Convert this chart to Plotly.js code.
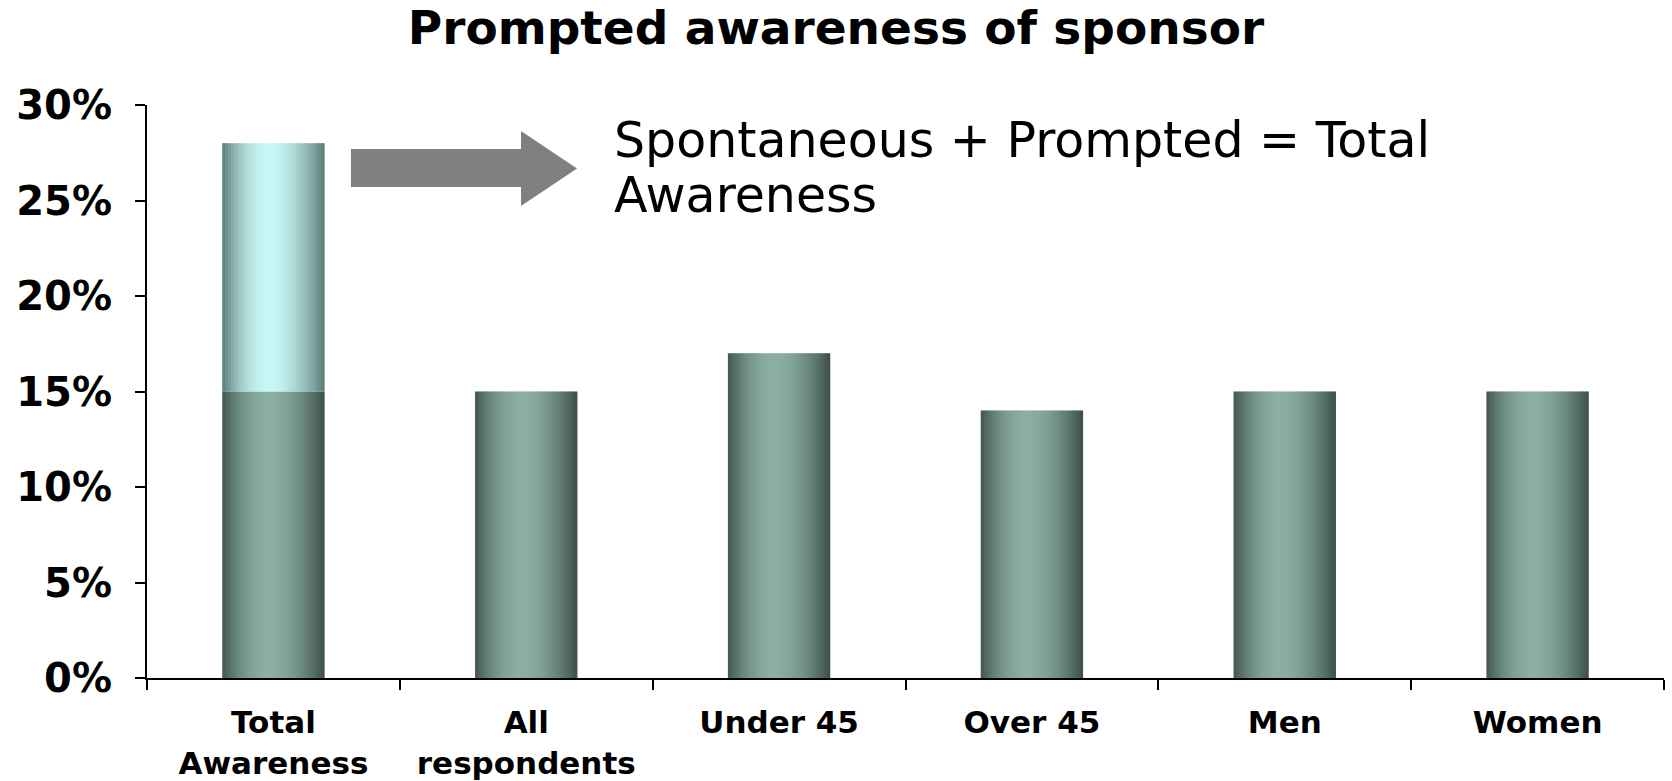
<!DOCTYPE html>
<html>
<head>
<meta charset="utf-8">
<script src="https://cdn.plot.ly/plotly-3.0.1.min.js"></script>
<style>
  html, body { margin: 0; padding: 0; background: #ffffff; }
  #chart { width: 1672px; height: 781px; }
</style>
</head>
<body>
<div id="chart"></div>
<script>
// ---- Data ----
const categories = ['Total Awareness', 'All respondents', 'Under 45', 'Over 45', 'Men', 'Women'];
const tickLabels = ['Total<br>Awareness', 'All<br>respondents', 'Under 45', 'Over 45', 'Men', 'Women'];
const baseValues = [15, 15, 17, 14, 15, 15];      // dark green bars (%)
const addedValues = [13, 0, 0, 0, 0, 0];          // light cyan segment on top of Total Awareness (%)
const yTickValues = [0, 5, 10, 15, 20, 25, 30];
const yTickLabels = ['0%', '5%', '10%', '15%', '20%', '25%', '30%'];
const chartTitle = 'Prompted awareness of sponsor';
const noteLines = ['Spontaneous + Prompted = Total', 'Awareness'];

// ---- Gradient strips (visual style only) ----
const N = 36;
const barWidth = 0.405;
const stripW = barWidth / N;

function profile(t) {
  const peak = 0.46;
  if (t < peak) return 1 - Math.pow((peak - t) / peak, 2);
  return 1 - Math.pow((t - peak) / (1 - peak), 1.7);
}
function mix(a, b, f) { return a.map((v, i) => Math.round(v + (b[i] - v) * f)); }
function stripColor(t, darkL, darkR, light) {
  const dark = mix(darkL, darkR, t);
  const c = mix(dark, light, Math.max(0, Math.min(1, profile(t))));
  return 'rgb(' + c.join(',') + ')';
}

const traces = [];
function addSeries(yVals, baseVals, darkL, darkR, light) {
  for (let i = 0; i < N; i++) {
    const t = (i + 0.5) / N;
    const tr = {
      type: 'bar',
      x: categories,
      y: yVals,
      offset: -barWidth / 2 + i * stripW,
      width: i < N - 1 ? stripW * 1.3 : stripW,
      marker: { color: stripColor(t, darkL, darkR, light), line: { width: 0 } },
      hoverinfo: 'skip',
      showlegend: false
    };
    if (baseVals) tr.base = baseVals;
    traces.push(tr);
  }
}
addSeries(baseValues, null, [66, 86, 78], [60, 78, 71], [139, 175, 162]);
addSeries(addedValues, baseValues, [92, 121, 119], [93, 123, 120], [200, 248, 246]);

// ---- Layout ----
const L = 147, R = 1664, T = 105, B = 678;
const W = R - L, H = B - T;
const px = v => (v - L) / W;
const py = v => (B - v) / H;

const arrowPath = 'M ' + px(351) + ' ' + py(149) +
  ' L ' + px(521) + ' ' + py(149) +
  ' L ' + px(521) + ' ' + py(131) +
  ' L ' + px(577) + ' ' + py(168.5) +
  ' L ' + px(521) + ' ' + py(206) +
  ' L ' + px(521) + ' ' + py(187) +
  ' L ' + px(351) + ' ' + py(187) + ' Z';

const layout = {
  width: 1672,
  height: 781,
  paper_bgcolor: '#ffffff',
  plot_bgcolor: '#ffffff',
  barmode: 'overlay',
  margin: { l: L, r: 1672 - R, t: T, b: 781 - B, pad: 0 },
  font: { family: 'DejaVu Sans, Verdana, sans-serif', color: '#000000' },
  title: {
    text: chartTitle,
    font: { family: 'DejaVu Sans, Verdana, sans-serif', size: 47, weight: 700, color: '#000000' },
    x: 0.5, xref: 'container', xanchor: 'center',
    y: 1 - 28 / 781, yref: 'container', yanchor: 'middle'
  },
  xaxis: {
    type: 'category',
    categoryorder: 'array',
    categoryarray: categories,
    tickvals: categories,
    ticktext: tickLabels,
    tickson: 'boundaries',
    ticks: 'outside',
    ticklen: 10,
    tickwidth: 2,
    tickcolor: '#000000',
    showline: true,
    linecolor: '#000000',
    linewidth: 2,
    showgrid: false,
    zeroline: false,
    ticklabelstandoff: 16,
    tickfont: { family: 'DejaVu Sans, Verdana, sans-serif', size: 31, weight: 700, color: '#000000' },
    fixedrange: true
  },
  yaxis: {
    range: [0, 30],
    tickvals: yTickValues,
    ticktext: yTickLabels,
    ticks: 'outside',
    ticklen: 10,
    tickwidth: 2,
    tickcolor: '#000000',
    showline: true,
    linecolor: '#000000',
    linewidth: 2,
    showgrid: false,
    zeroline: false,
    ticklabelstandoff: 15,
    tickfont: { family: 'DejaVu Sans, Verdana, sans-serif', size: 40, weight: 700, color: '#000000' },
    fixedrange: true
  },
  shapes: [{
    type: 'path', xref: 'paper', yref: 'paper',
    path: arrowPath,
    fillcolor: '#808080',
    line: { width: 0 }
  }],
  annotations: [
    {
      text: noteLines[0], xref: 'paper', yref: 'paper',
      x: px(612), y: py(140), xanchor: 'left', yanchor: 'middle',
      showarrow: false, align: 'left',
      font: { family: 'DejaVu Sans, Verdana, sans-serif', size: 49, color: '#000000' }
    },
    {
      text: noteLines[1], xref: 'paper', yref: 'paper',
      x: px(612), y: py(195), xanchor: 'left', yanchor: 'middle',
      showarrow: false, align: 'left',
      font: { family: 'DejaVu Sans, Verdana, sans-serif', size: 49, color: '#000000' }
    }
  ]
};

Plotly.newPlot('chart', traces, layout, { displayModeBar: false, staticPlot: true });
</script>
</body>
</html>
